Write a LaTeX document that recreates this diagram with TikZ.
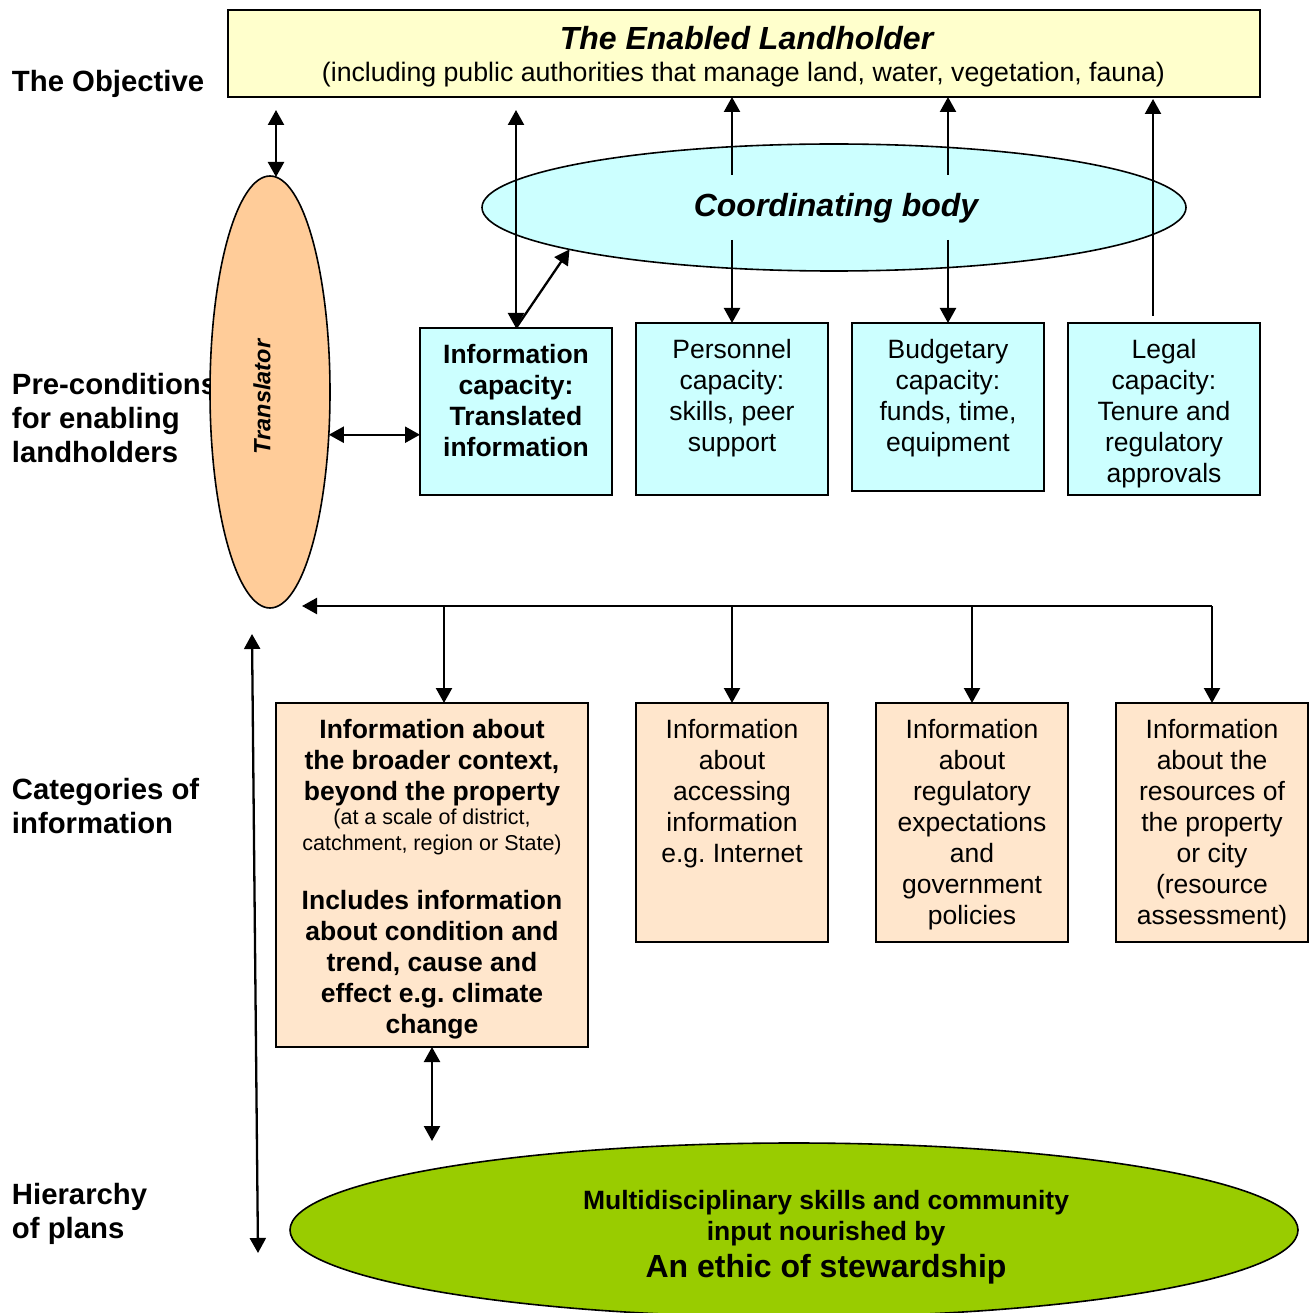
\documentclass[tikz,border=0pt]{standalone}
\usepackage{fontspec}
\setmainfont{Liberation Sans}
\usetikzlibrary{shapes.geometric,arrows.meta,calc}
\newcommand\fsz[2]{\fontsize{#1}{#2}\selectfont}
\definecolor{cyanbox}{HTML}{CCFFFF}
\definecolor{yellowbox}{HTML}{FFFFCC}
\definecolor{peach}{HTML}{FFCC99}
\definecolor{beige}{HTML}{FFE6CC}
\definecolor{leaf}{HTML}{99CC00}
\frenchspacing
\begin{document}
\begin{tikzpicture}[x=1pt,y=-1pt,
  every node/.style={inner sep=0pt,outer sep=0pt},
  boxA/.style={draw,line width=1.8pt,rectangle},
  ovalA/.style={draw,line width=1.6pt,ellipse},
  arr/.style={line width=2.3pt,-{Triangle[length=15pt,width=16pt]}},
  dbl/.style={line width=2.3pt,{Triangle[length=15pt,width=16pt]}-{Triangle[length=15pt,width=16pt]}},
  lbl/.style={anchor=north west,align=left,font=\fsz{29.3}{34}\bfseries},
  txt/.style={anchor=north,align=center,font=\fsz{26.5}{31}},
  btxt/.style={txt,font=\fsz{26.5}{31}\bfseries},
  stxt/.style={txt,font=\fsz{21.5}{26}}]
\useasboundingbox (0,0) rectangle (1314,1313);
\fill[white] (0,0) rectangle (1314,1313);

% left labels
\node[lbl] (lObj) at (12,70) {The Objective};
\node[lbl] (lPre) at (12,373) {Pre-conditions\\for enabling\\landholders};
\node[lbl] (lCat) at (12,778) {Categories of\\information};
\node[lbl] (lHie) at (12,1183) {Hierarchy\\of plans};

% top box
\node[boxA,fill=yellowbox,minimum width=1032pt,minimum height=87pt] (top) at (744,53.5) {};
\node[anchor=north,font=\fsz{32}{37}\bfseries\itshape] (topT) at (746.5,26) {The Enabled Landholder};
\node[anchor=north,font=\fsz{26.7}{31}] (topS) at (743.5,62) {(including public authorities that manage land, water, vegetation, fauna)};

% translator
\node[ovalA,fill=peach,minimum width=120pt,minimum height=432pt] (trans) at (270,392) {};
\node[rotate=90,font=\fsz{23.5}{28}\bfseries\itshape] (transT) at (262,397) {Translator};

% coordinating body
\node[ovalA,fill=cyanbox,minimum width=704pt,minimum height=127pt] (coord) at (834,207.5) {};
\node[anchor=north,font=\fsz{32}{37}\bfseries\itshape] (coordT) at (836,193) {Coordinating body};

% capacity boxes
\node[boxA,fill=cyanbox,minimum width=192pt,minimum height=167pt] (info) at (516,411.5) {};
\node[boxA,fill=cyanbox,minimum width=192pt,minimum height=172pt] (pers) at (732,409) {};
\node[boxA,fill=cyanbox,minimum width=192pt,minimum height=168pt] (budg) at (948,407) {};
\node[boxA,fill=cyanbox,minimum width=192pt,minimum height=172pt] (legal) at (1164,409) {};
\node[btxt] (infoT) at (516,344) {Information\\capacity:\\Translated\\information};
\node[txt] (persT) at (732,339) {Personnel\\capacity:\\skills, peer\\support};
\node[txt] (budgT) at (948,339) {Budgetary\\capacity:\\funds, time,\\equipment};
\node[txt] (legalT) at (1164,339) {Legal\\capacity:\\Tenure and\\regulatory\\approvals};

% information categories
\node[boxA,fill=beige,minimum width=312pt,minimum height=344pt] (cat1) at (432,875) {};
\node[boxA,fill=beige,minimum width=192pt,minimum height=239pt] (cat2) at (732,822.5) {};
\node[boxA,fill=beige,minimum width=192pt,minimum height=239pt] (cat3) at (972,822.5) {};
\node[boxA,fill=beige,minimum width=192pt,minimum height=239pt] (cat4) at (1212,822.5) {};
\node[btxt] (cat1a) at (432,719) {Information about\\the broader context,\\beyond the property};
\node[stxt] (cat1b) at (432,809) {(at a scale of district,\\catchment, region or State)};
\node[btxt] (cat1c) at (432,890) {Includes information\\about condition and\\trend, cause and\\effect e.g. climate\\change};
\node[txt] (cat2T) at (732,719) {Information\\about\\accessing\\information\\e.g. Internet};
\node[txt] (cat3T) at (972,719) {Information\\about\\regulatory\\expectations\\and\\government\\policies};
\node[txt] (cat4T) at (1212,719) {Information\\about the\\resources of\\the property\\or city\\(resource\\assessment)};

% stewardship ellipse
\node[ovalA,fill=leaf,minimum width=1008pt,minimum height=174pt] (green) at (794,1230) {};
\node[btxt] (greenA) at (826,1190) {Multidisciplinary skills and community\\input nourished by};
\node[anchor=north,font=\fsz{32}{37}\bfseries] (greenB) at (826,1254) {An ethic of stewardship};

% connectors
\draw[dbl] ([xshift=6pt,yshift=-13pt]trans.north |- top.south) -- ([xshift=6pt,yshift=-1pt]trans.north);
\draw[dbl] ([yshift=-13pt]info.north |- top.south) -- (info.north);
\draw[arr] (info.north) -- (coord.189.5);
\draw[arr] ([yshift=-31pt]coord.north -| pers.north) -- (pers.north |- top.south);
\draw[arr] ([yshift=31pt]coord.south -| pers.north) -- (pers.north);
\draw[arr] ([yshift=-31pt]coord.north -| budg.north) -- (budg.north |- top.south);
\draw[arr] ([yshift=31pt]coord.south -| budg.north) -- (budg.north);
\draw[arr] ([xshift=-11pt,yshift=7pt]legal.north) -- ([xshift=-11pt,yshift=-2pt]legal.north |- top.south);
\draw[dbl] (trans.-36) -- (trans.-36 -| info.west);

\coordinate (busR) at (1212,606);
\coordinate (busL) at (302,606);
\draw[arr] (busR) -- (busL);
\draw[arr] (busR -| cat1.north) ++(12,0) -- ([xshift=12pt]cat1.north);
\draw[arr] (busR -| cat2.north) -- (cat2.north);
\draw[arr] (busR -| cat3.north) -- (cat3.north);
\draw[arr] (busR) -- (cat4.north);
\draw[dbl] (cat1.south) -- ([yshift=2pt]cat1.south |- green.north);

\coordinate (hierTop) at (252,634);
\coordinate (hierBot) at (258,1253);
\draw[dbl] (hierTop) -- (hierBot);
\end{tikzpicture}
\end{document}
